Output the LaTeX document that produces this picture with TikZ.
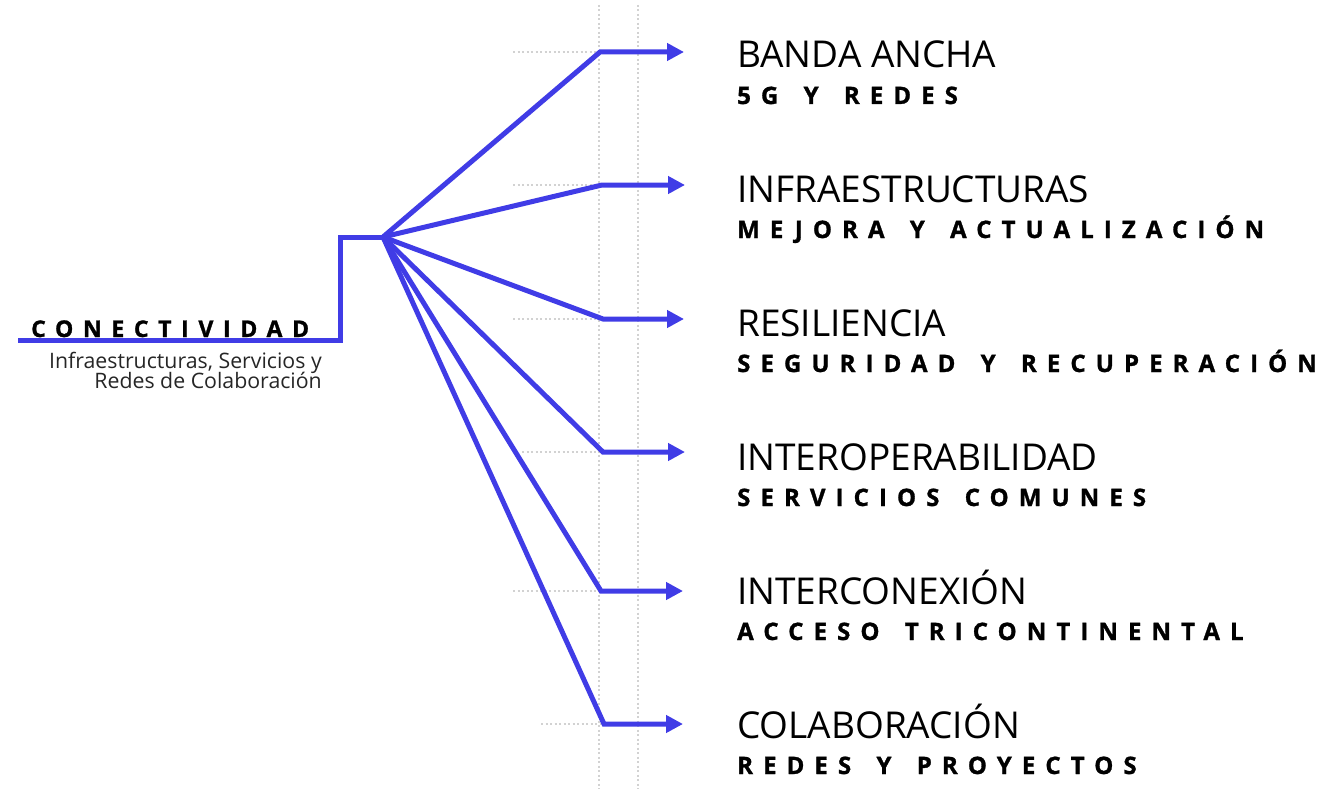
\documentclass[tikz,border=0pt]{standalone}
\usepackage{fontspec}
\setmainfont{Open Sans}
\newfontfamily\spaced[LetterSpace=42, WordSpace=1.55, BoldFeatures={FakeBold=1.2}]{Open Sans}
\usetikzlibrary{arrows.meta}
\definecolor{lineblue}{RGB}{64,60,230}
\definecolor{dotgray}{RGB}{210,210,210}
\tikzset{
  conn/.style={draw=lineblue, line width=5pt, line join=miter},
  arr/.style={conn, -{Triangle[length=17pt,width=17pt]}},
  guide/.style={draw=dotgray, line width=2pt, dash pattern=on 2pt off 2.5pt},
  title/.style={anchor=base west, inner sep=0pt, font=\fontsize{37pt}{40pt}\selectfont},
  subtitle/.style={anchor=base west, inner sep=0pt, font=\fontsize{24pt}{26pt}\selectfont\spaced\bfseries},
  small/.style={anchor=base east, inner sep=0pt, font=\fontsize{21.3pt}{22pt}\selectfont, text=black!85},
}
\begin{document}
\begin{tikzpicture}[x=1pt,y=-1pt]
\useasboundingbox (0,0) rectangle (1329,789);
% vertical dotted guides
\coordinate (g1t) at (599,5); \coordinate (g1b) at (599,789);
\coordinate (g2t) at (638,5); \coordinate (g2b) at (638,789);
\draw[guide] (g1t) -- (g1b);
\draw[guide] (g2t) -- (g2b);
% hub
\coordinate (s0) at (18,340.5);
\coordinate (s1) at (340,340.5);
\coordinate (s2) at (340,237);
\coordinate (hub) at (383,237);
% branch corners, guide starts and tips
\coordinate (c1) at (600,52);  \coordinate (d1) at (513,52);  \coordinate (t1) at (684,52);
\coordinate (c2) at (602,185); \coordinate (d2) at (513,185); \coordinate (t2) at (685,185);
\coordinate (c3) at (603,319); \coordinate (d3) at (513,319); \coordinate (t3) at (684,319);
\coordinate (c4) at (603,452); \coordinate (d4) at (522,452); \coordinate (t4) at (685,452);
\coordinate (c5) at (601,591); \coordinate (d5) at (513,591); \coordinate (t5) at (683,591);
\coordinate (c6) at (604,724); \coordinate (d6) at (541,724); \coordinate (t6) at (683,724);
\foreach \i in {1,...,6}{\draw[guide] (d\i) -- (c\i);}
% main connectors
\draw[conn] (s0) -- (s1) -- (s2) -- (hub);
\foreach \i in {1,...,6}{\draw[arr] (hub) -- (c\i) -- (t\i);}
% left labels
\node[anchor=base west, inner sep=0pt, font=\fontsize{23pt}{26pt}\selectfont\spaced\bfseries] (main) at (31,337) {CONECTIVIDAD};
\node[small] (mainsub1) at (322,368) {Infraestructuras, Servicios y};
\node[small] (mainsub2) at (322,388) {Redes de Colaboración};
% right labels
\node[title] (n1) at (737,68) {BANDA ANCHA};
\node[subtitle] (m1) at (737,104) {5G Y REDES};
\node[title] (n2) at (737,202) {INFRAESTRUCTURAS};
\node[subtitle] (m2) at (737,238) {MEJORA Y ACTUALIZACIÓN};
\node[title] (n3) at (737,336) {RESILIENCIA};
\node[subtitle] (m3) at (737,372) {SEGURIDAD Y RECUPERACIÓN};
\node[title] (n4) at (737,470) {INTEROPERABILIDAD};
\node[subtitle] (m4) at (737,506) {SERVICIOS COMUNES};
\node[title] (n5) at (737,604) {INTERCONEXIÓN};
\node[subtitle] (m5) at (737,640) {ACCESO TRICONTINENTAL};
\node[title] (n6) at (737,738) {COLABORACIÓN};
\node[subtitle] (m6) at (737,774) {REDES Y PROYECTOS};
\end{tikzpicture}
\end{document}
